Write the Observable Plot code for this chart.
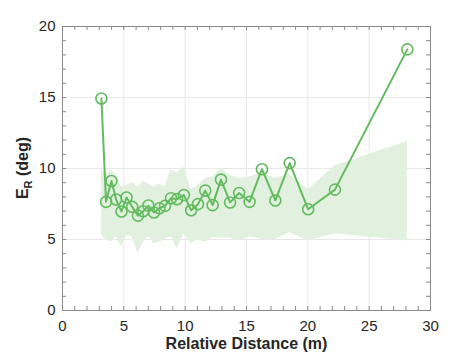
<!DOCTYPE html>
<html>
<head>
<meta charset="utf-8">
<script src="https://cdn.jsdelivr.net/npm/d3@7"></script>
<script src="https://cdn.jsdelivr.net/npm/@observablehq/plot@0.6"></script>
<style>
  html, body { margin: 0; padding: 0; background: #fff; }
  svg { display: block; }
</style>
</head>
<body>
<div id="chart"></div>
<script>
// Relative distance (m)
const distance = [3.17, 3.55, 3.99, 4.37, 4.81, 5.22, 5.68, 6.15, 6.58, 7.0,
  7.46, 7.9, 8.36, 8.85, 9.34, 9.89, 10.49, 11.04, 11.64, 12.24,
  12.92, 13.66, 14.4, 15.25, 16.26, 17.35, 18.52, 20.03, 22.21, 28.11];
// Mean E_R (deg)
const errorMean = [14.93, 7.65, 9.12, 7.82, 6.97, 7.96, 7.30, 6.68, 6.99, 7.39,
  6.90, 7.20, 7.37, 7.91, 7.84, 8.13, 7.06, 7.49, 8.44, 7.42,
  9.22, 7.61, 8.27, 7.65, 9.95, 7.75, 10.38, 7.13, 8.51, 18.39];
// Shaded band upper / lower (deg)
const bandUpper = [9.9, 9.6, 9.9, 9.5, 8.7, 8.8, 9.0, 8.7, 9.1, 8.9,
  8.7, 8.9, 8.7, 9.9, 9.7, 10.1, 8.5, 8.8, 9.3, 9.4,
  10.0, 9.5, 9.3, 9.4, 9.7, 9.3, 9.6, 8.5, 10.2, 11.9];
const bandLower = [5.3, 5.0, 4.8, 5.2, 4.5, 5.3, 5.2, 4.0, 4.8, 5.2,
  4.7, 4.8, 5.0, 5.2, 4.3, 5.4, 4.7, 5.0, 4.8, 5.1,
  5.1, 5.1, 4.9, 5.2, 5.0, 5.0, 5.5, 4.9, 5.4, 4.9];

const xTicks = [0, 5, 10, 15, 20, 25, 30];
const yTicks = [0, 5, 10, 15, 20];
const xMinor = d3.range(0, 31, 1);
const yMinor = d3.range(0, 21, 1);

const xLabel = "Relative Distance (m)";

const data = distance.map((d, i) => ({x: d, y: errorMean[i], lo: bandLower[i], hi: bandUpper[i]}));

const lineColor = "#63bb5f";
const bandColor = "#e2f1df";
const axisColor = "#8a8a8a";
const gridColor = "#e8e8e8";

const xMin = 0, xMax = 30, yMin = 0, yMax = 20;
const tickLenX = 0.33;  // ~4px in x data units
const tickLenY = 0.28;  // ~4px in y data units

const chart = Plot.plot({
  width: 473,
  height: 355,
  marginLeft: 62,
  marginRight: 43,
  marginTop: 26,
  marginBottom: 45,
  style: {fontFamily: "'Liberation Sans', Arial, Helvetica, sans-serif", fontSize: "15px", color: "#262626", background: "#fff"},
  x: {domain: [xMin, xMax]},
  y: {domain: [yMin, yMax]},
  marks: [
    Plot.gridX(xTicks, {stroke: gridColor, strokeOpacity: 1}),
    Plot.gridY(yTicks, {stroke: gridColor, strokeOpacity: 1}),
    Plot.areaY(data, {x: "x", y1: "lo", y2: "hi", fill: bandColor, fillOpacity: 1}),
    Plot.line(data, {x: "x", y: "y", stroke: lineColor, strokeWidth: 2}),
    Plot.dot(data, {x: "x", y: "y", r: 5.5, stroke: lineColor, strokeWidth: 1.6, fill: "none"}),
    Plot.frame({stroke: axisColor, strokeWidth: 1}),
    // inward ticks (bottom / top)
    Plot.ruleX(xMinor, {x: d => d, y1: yMin, y2: yMin + tickLenY, stroke: axisColor}),
    Plot.ruleX(xMinor, {x: d => d, y1: yMax - tickLenY, y2: yMax, stroke: axisColor}),
    // inward ticks (left / right)
    Plot.ruleY(yMinor, {y: d => d, x1: xMin, x2: xMin + tickLenX, stroke: axisColor}),
    Plot.ruleY(yMinor, {y: d => d, x1: xMax - tickLenX, x2: xMax, stroke: axisColor}),
    Plot.axisX(xTicks, {tickSize: 0, tickPadding: 10, label: null, fontSize: 15, fill: "#262626"}),
    Plot.axisY(yTicks, {tickSize: 0, tickPadding: 7, label: null, fontSize: 15, fill: "#262626"}),
    Plot.text([xLabel], {text: d => d, frameAnchor: "bottom", dy: 38, fontSize: 16, fontWeight: "bold", fill: "#262626"})
  ]
});

document.getElementById("chart").appendChild(chart);

// Y-axis label with subscript
const svg = d3.select(chart);
const yl = svg.append("text")
  .attr("transform", "translate(28,168) rotate(-90)")
  .attr("text-anchor", "middle")
  .attr("font-family", "'Liberation Sans', Arial, Helvetica, sans-serif")
  .attr("font-size", 16)
  .attr("font-weight", "bold")
  .attr("fill", "#262626");
yl.append("tspan").text("E");
yl.append("tspan").attr("font-size", 11).attr("dy", 4).text("R");
yl.append("tspan").attr("dy", -4).text(" (deg)");
</script>
</body>
</html>
